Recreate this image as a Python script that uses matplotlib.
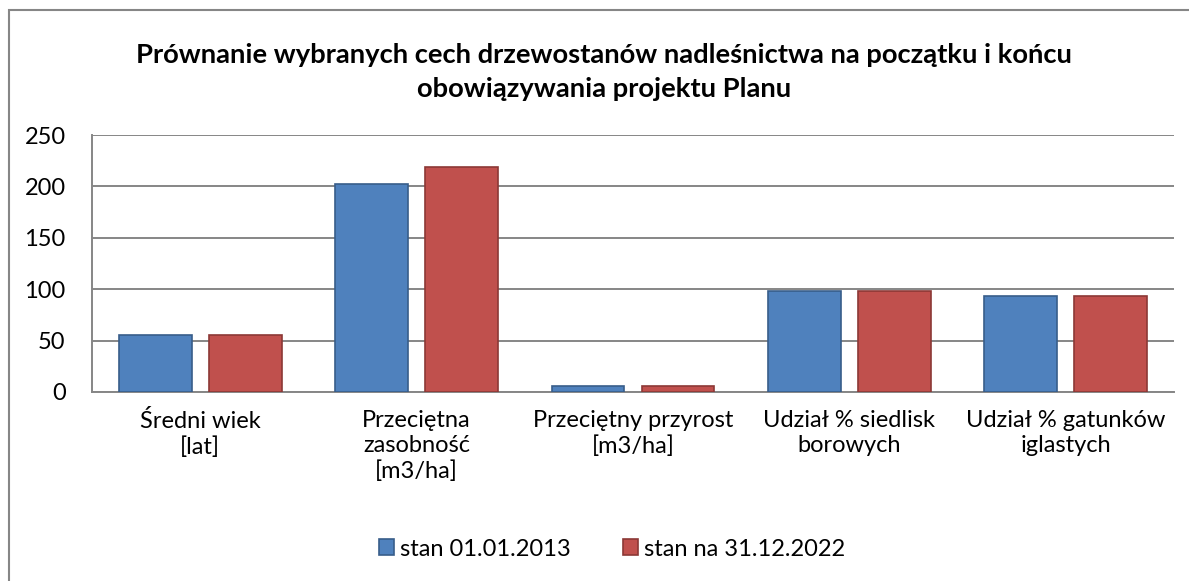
import numpy as np
import matplotlib
matplotlib.use("Agg")
import matplotlib.pyplot as plt
from matplotlib.patches import Rectangle

categories = ["Średni wiek\n[lat]", "Przeciętna\nzasobność\n[m3/ha]",
              "Przeciętny przyrost\n[m3/ha]", "Udział % siedlisk\nborowych",
              "Udział % gatunków\niglastych"]
stan_2013 = [55, 202, 6, 98, 93.5]
stan_2022 = [55, 219, 6, 98, 93.5]
series_labels = ["stan 01.01.2013", "stan na 31.12.2022"]
yticks = [0, 50, 100, 150, 200, 250]

plt.rcParams["font.family"] = ["Lato", "DejaVu Sans"]

fig = plt.figure(figsize=(11.89, 5.81), dpi=100)
ax = fig.add_axes([92 / 1189, 1 - 392 / 581, 1082 / 1189, 257 / 581])

x = np.arange(len(categories))
w = 0.337
off = 0.208
ax.bar(x - off, stan_2013, w, color="#4F81BD", edgecolor="#385D8A", linewidth=1.2,
       label=series_labels[0], zorder=3)
ax.bar(x + off, stan_2022, w, color="#C0504D", edgecolor="#8C3836", linewidth=1.2,
       label=series_labels[1], zorder=3)

ax.set_xlim(-0.5, len(categories) - 0.5)
ax.set_ylim(0, 250)
ax.set_yticks(yticks)
ax.set_xticks(x)
ax.set_xticklabels(categories, fontsize=17, linespacing=1.25)
ax.tick_params(axis="both", length=0, labelsize=17)
ax.tick_params(axis="y", pad=19)
ax.tick_params(axis="x", pad=13)
ax.grid(axis="y", color="#868686", linewidth=1.4, zorder=0)
for side in ["top", "right"]:
    ax.spines[side].set_visible(False)
for side in ["left", "bottom"]:
    ax.spines[side].set_color("#868686")
    ax.spines[side].set_linewidth(1.4)

fig.text(604 / 1189, 1 - 72 / 581,
         "Prównanie wybranych cech drzewostanów nadleśnictwa na początku i końcu\n"
         "obowiązywania projektu Planu",
         ha="center", va="center", fontsize=19.7, fontweight="bold", linespacing=1.5)

fig.legend(loc="center", bbox_to_anchor=(612 / 1189, 1 - 549 / 581), ncol=2, frameon=False,
           fontsize=17, handlelength=0.65, handleheight=0.65, handletextpad=0.25,
           columnspacing=2.2)

# ramka wykresu (prawa i dolna krawędź poza kadrem)
fig.patches.append(Rectangle((9 / 1189, -0.05), 1.1, 1 - 10 / 581 + 0.05,
                             transform=fig.transFigure, fill=False,
                             edgecolor="#868686", linewidth=1.5, clip_on=False))

fig.savefig("out.png", dpi=100)
